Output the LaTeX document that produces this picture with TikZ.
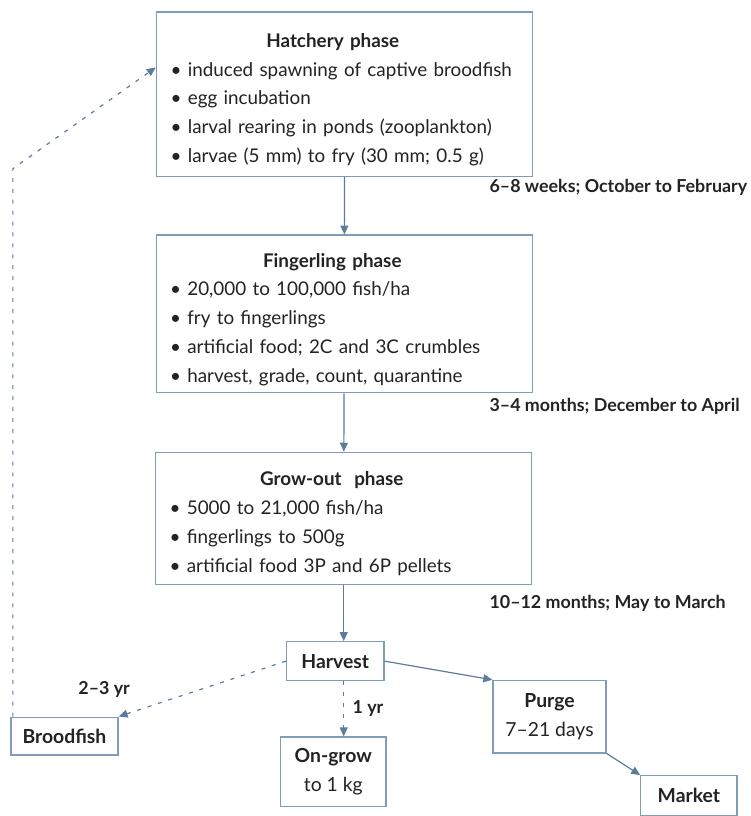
\documentclass[tikz,border=0pt]{standalone}
\usepackage{fontspec}
\setmainfont{Lato}
\usetikzlibrary{arrows.meta}
\usetikzlibrary{positioning}

\definecolor{boxline}{RGB}{128,156,184}
\definecolor{arrline}{RGB}{92,124,158}
\definecolor{txt}{RGB}{35,35,35}

\tikzset{
  phase/.style={draw=boxline, line width=1.3pt, text width=351pt, inner xsep=14pt,
    align=left, text=txt, font=\fontsize{19}{29}\selectfont},
  stage/.style={draw=boxline, line width=1.3pt, align=center, inner sep=0pt,
    text=txt, font=\fontsize{19.5}{29}\selectfont},
  flow/.style={arrline, line width=1.2pt, -{Triangle[length=9pt,width=8pt]}},
  loop/.style={flow, dash pattern=on 4pt off 7pt},
  when/.style={text=txt, font=\bfseries\fontsize{18}{20}\selectfont, anchor=west}
}
\newcommand{\bl}{\textbullet\ }
\newcommand{\ttl}[1]{{\centering\rule{0pt}{25pt}\bfseries #1\hspace*{24pt}\par}}

\begin{document}
\begin{tikzpicture}[x=1pt, y=-1pt]
  \fill[white] (0,0) rectangle (748,816);
  \hyphenpenalty=10000
  % the three phases
  \node[phase, minimum height=166pt] (ph0) at (347.5,95) {\ttl{Hatchery phase}
    \bl induced spawning of captive broodfish\\ \bl egg incubation\\
    \bl larval rearing in ponds (zooplankton)\\ \bl larvae (5 mm) to fry (30 mm; 0.5 g)};
  \node[phase, minimum height=159pt] (ph1) at (347,316.5) {\ttl{Fingerling phase}
    \bl 20,000 to 100,000 fish/ha\\ \bl fry to fingerlings\\
    \bl artificial food; 2C and 3C crumbles\\ \bl harvest, grade, count, quarantine};
  \node[phase, minimum height=133pt] (ph2) at (346.5,522.5) {\ttl{Grow-out~ phase}
    \bl 5000 to 21,000 fish/ha\\ \bl fingerlings to 500g\\
    \bl artificial food 3P and 6P pellets};
  % after harvest
  \node[stage, minimum width=98pt, minimum height=39pt, font=\bfseries\fontsize{19.5}{29}\selectfont]
    (hv) at (338,666.5) {Harvest};
  \node[stage, minimum width=108pt, minimum height=38pt, font=\bfseries\fontsize{19.5}{29}\selectfont]
    (bf) at (65,742) {Broodfish};
  \node[stage, minimum width=106pt, minimum height=70pt] (og) at (336,778)
    {\textbf{On-grow}\\ to 1 kg};
  \node[stage, minimum width=114pt, minimum height=73pt] (pg) at (554,722.5)
    {\textbf{Purge}\\ 7--21 days};
  \node[stage, minimum width=97pt, minimum height=40pt, font=\bfseries\fontsize{19.5}{29}\selectfont]
    (mk) at (694.5,802) {Market};
  % durations
  \node[when] (w0) at (490,189) {6--8 weeks; October to February};
  \node[when] (w1) at (490,410) {3--4 months; December to April};
  \node[when] (w2) at (490,608) {10--12 months; May to March};
  \node[when, anchor=center] (y0) at (105,695) {2--3 yr};
  \node[when, anchor=center] (y1) at (371,714) {1 yr};
  % connectors
  \draw[flow] (ph0) -- (ph1);
  \draw[flow] (ph1) -- (ph2);
  \draw[flow] (ph2.south) -- (ph2.south |- hv.north);
  \draw[flow] (hv.east) -- (pg.north west);
  \draw[flow] (pg.south east) -- (mk.north west);
  \draw[loop] (hv.west) -- (bf.north east);
  \draw[loop] (ph2.south |- hv.south) -- (ph2.south |- og.north);
  \coordinate (c0) at (13,170); \coordinate (c1) at (157,68);
  \draw[loop] (bf.north west -| c0) -- (c0) -- (c1);
\end{tikzpicture}
\end{document}
